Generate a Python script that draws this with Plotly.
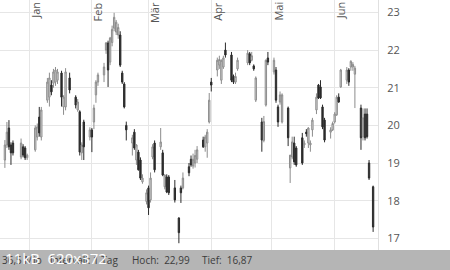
import plotly.graph_objects as go

dates = [
    "2018-12-20", "2018-12-21", "2018-12-22", "2018-12-23", "2018-12-24",
    "2018-12-28", "2018-12-29", "2018-12-30", "2018-12-31",
    "2019-01-04", "2019-01-05", "2019-01-06", "2019-01-07",
    "2019-01-10", "2019-01-11", "2019-01-12", "2019-01-13", "2019-01-14", "2019-01-15",
    "2019-01-17", "2019-01-18", "2019-01-19", "2019-01-21",
    "2019-01-24", "2019-01-25", "2019-01-26", "2019-01-27", "2019-01-28",
    "2019-01-31", "2019-02-01", "2019-02-02", "2019-02-03", "2019-02-04",
    "2019-02-07", "2019-02-08", "2019-02-09", "2019-02-10", "2019-02-11", "2019-02-12",
    "2019-02-13", "2019-02-14", "2019-02-15", "2019-02-16", "2019-02-17",
    "2019-02-18",
    "2019-02-21", "2019-02-22", "2019-02-23", "2019-02-24", "2019-02-25", "2019-02-26",
    "2019-02-28", "2019-03-01", "2019-03-02", "2019-03-03", "2019-03-04",
    "2019-03-07", "2019-03-08", "2019-03-09", "2019-03-10", "2019-03-11",
    "2019-03-14", "2019-03-16", "2019-03-17", "2019-03-18",
    "2019-03-21", "2019-03-22", "2019-03-23", "2019-03-24", "2019-03-25",
    "2019-03-28", "2019-03-29", "2019-03-30", "2019-03-31", "2019-04-01",
    "2019-04-04", "2019-04-05", "2019-04-06", "2019-04-07", "2019-04-08",
    "2019-04-11", "2019-04-12", "2019-04-13", "2019-04-14",
    "2019-04-19", "2019-04-20", "2019-04-21", "2019-04-22", "2019-04-23",
    "2019-04-26", "2019-04-27", "2019-04-28", "2019-04-29",
    "2019-05-02", "2019-05-03", "2019-05-04", "2019-05-05", "2019-05-06",
    "2019-05-09", "2019-05-10", "2019-05-11", "2019-05-12", "2019-05-13",
    "2019-05-16", "2019-05-17", "2019-05-18", "2019-05-19", "2019-05-20", "2019-05-21",
    "2019-05-23", "2019-05-24", "2019-05-25", "2019-05-26", "2019-05-27",
    "2019-05-30", "2019-05-31", "2019-06-01", "2019-06-02", "2019-06-03", "2019-06-04",
    "2019-06-07", "2019-06-08", "2019-06-09", "2019-06-10", "2019-06-11",
    "2019-06-14", "2019-06-15", "2019-06-16", "2019-06-17", "2019-06-18",
    "2019-06-20",
]

open_ = [
    19.08, 19.48, 19.93, 19.48, 19.53,
    19.16, 19.43, 19.40, 19.14,
    19.35, 19.69, 20.22, 19.69,
    20.67, 20.75, 21.07, 21.12, 21.15, 21.20,
    21.39, 20.49, 20.49, 21.26,
    20.75, 20.41, 20.36, 19.27, 20.09,
    19.69, 19.88, 20.09, 20.81, 21.15,
    21.34, 22.00, 22.19, 21.68, 22.20, 22.58,
    22.48, 22.40, 22.40, 21.39, 21.10,
    20.00,
    19.53, 19.82, 19.08, 19.29, 19.08, 18.50,
    17.98, 18.34, 18.02, 19.16, 19.53,
    19.43, 19.27, 18.37, 18.63, 18.63,
    18.34, 17.54, 18.34, 18.34,
    18.90, 19.10, 18.92, 19.00, 19.10,
    19.61, 19.43, 19.53, 20.09, 21.15,
    21.47, 21.60, 21.20, 21.55, 22.00,
    21.87, 21.30, 21.15, 21.50,
    21.66, 21.90, 21.73, 21.58, 20.67,
    20.09, 19.60, 20.54, 21.79,
    21.42, 21.47, 20.49, 20.62, 20.09,
    20.46, 18.87, 19.16, 19.53, 19.40,
    19.67, 19.48, 19.82, 19.53, 19.48, 19.88,
    20.41, 21.07, 21.02, 20.49, 20.14,
    19.82, 19.88, 20.09, 20.28, 20.75, 21.02,
    21.20, 21.47, 21.55, 21.55, 21.36,
    20.46, 19.70, 20.30, 20.30, 19.00,
    18.37,
]

high = [
    19.61, 20.09, 20.14, 19.55, 19.60,
    19.65, 19.50, 19.45, 19.25,
    20.00, 20.05, 20.49, 20.49,
    21.26, 21.40, 21.20, 21.50, 21.55, 21.50,
    21.45, 20.80, 21.52, 21.40,
    20.80, 20.70, 20.40, 19.55, 20.15,
    19.95, 19.93, 20.55, 21.20, 21.40,
    21.66, 22.21, 22.25, 22.35, 22.65, 22.99,
    22.80, 22.70, 22.50, 21.45, 21.15,
    20.10,
    19.75, 19.90, 19.50, 19.35, 19.15, 18.70,
    18.30, 18.40, 18.75, 19.50, 19.60,
    19.93, 19.35, 18.70, 18.70, 18.68,
    18.55, 17.56, 18.40, 18.75,
    19.00, 19.20, 19.25, 19.35, 19.45,
    19.70, 19.75, 19.90, 20.86, 21.26,
    21.80, 21.85, 21.75, 21.85, 22.20,
    21.95, 21.35, 21.40, 21.80,
    22.00, 21.95, 21.95, 21.62, 21.30,
    20.20, 20.25, 21.75, 21.95,
    21.80, 21.55, 20.55, 20.90, 20.85,
    20.50, 19.20, 19.70, 19.70, 19.45,
    19.80, 19.60, 19.90, 19.95, 19.60, 20.20,
    20.85, 21.10, 21.20, 20.55, 20.20,
    19.95, 20.10, 20.35, 20.80, 20.85, 21.50,
    21.55, 21.52, 21.73, 21.68, 21.58,
    20.55, 20.45, 20.45, 20.45, 19.08,
    18.40,
]

low = [
    18.87, 19.40, 19.35, 18.95, 19.20,
    19.10, 19.15, 19.08, 19.08,
    19.30, 19.60, 19.70, 19.60,
    20.60, 20.50, 20.80, 21.00, 21.05, 21.10,
    20.50, 20.28, 20.40, 20.85,
    20.45, 20.36, 19.20, 19.08, 19.08,
    19.60, 19.29, 19.90, 20.60, 21.05,
    21.15, 21.90, 21.02, 21.60, 22.10, 22.50,
    22.40, 22.30, 21.55, 21.10, 20.45,
    19.60,
    19.20, 19.35, 18.95, 18.80, 18.55, 18.45,
    17.90, 17.62, 17.95, 19.10, 18.75,
    19.35, 18.65, 18.30, 18.20, 18.15,
    17.95, 16.87, 17.94, 18.30,
    18.65, 18.90, 18.85, 18.88, 19.00,
    19.40, 19.30, 19.14, 20.05, 20.90,
    21.30, 21.50, 21.10, 21.50, 21.80,
    21.15, 21.10, 21.10, 21.45,
    21.60, 21.60, 21.70, 21.45, 20.62,
    19.30, 19.55, 20.50, 21.60,
    21.35, 20.60, 19.96, 20.55, 20.05,
    19.45, 18.47, 19.10, 18.95, 18.90,
    18.95, 19.40, 19.70, 19.40, 19.30, 19.70,
    20.30, 20.70, 20.70, 19.90, 19.55,
    19.65, 19.85, 20.05, 20.25, 20.60, 21.00,
    21.10, 21.05, 21.45, 21.45, 20.46,
    19.35, 19.60, 19.60, 19.65, 18.55,
    17.17,
]

close = [
    19.48, 19.82, 19.43, 19.27, 19.27,
    19.53, 19.21, 19.14, 19.21,
    19.93, 19.96, 19.80, 20.41,
    21.15, 21.26, 20.89, 21.42, 21.47, 21.42,
    20.75, 20.75, 21.42, 20.94,
    20.54, 20.62, 19.29, 19.48, 19.43,
    19.88, 19.69, 20.46, 21.15, 21.34,
    21.55, 22.19, 21.47, 22.32, 22.55, 22.87,
    22.74, 22.60, 21.60, 21.15, 20.49,
    19.88,
    19.67, 19.40, 19.48, 18.82, 18.60, 18.60,
    18.21, 17.81, 18.60, 19.43, 18.82,
    19.56, 18.68, 18.68, 18.23, 18.21,
    18.02, 17.15, 18.21, 18.60,
    18.74, 18.95, 19.10, 19.20, 19.35,
    19.43, 19.69, 19.82, 20.67, 21.07,
    21.73, 21.75, 21.73, 21.79, 21.87,
    21.20, 21.15, 21.30, 21.73,
    21.92, 21.66, 21.85, 21.50, 21.26,
    19.61, 20.10, 21.73, 21.68,
    21.73, 20.67, 20.09, 20.81, 20.81,
    19.67, 19.21, 19.56, 19.03, 18.95,
    19.00, 19.53, 19.78, 19.93, 19.53, 20.14,
    20.75, 20.73, 20.73, 19.96, 19.61,
    19.88, 20.05, 20.30, 20.75, 20.62, 21.47,
    21.47, 21.15, 21.70, 21.62, 21.52,
    19.67, 20.20, 19.67, 19.70, 18.60,
    17.30,
]

month_starts = ["2019-01-01", "2019-02-01", "2019-03-01", "2019-04-01", "2019-05-01", "2019-06-01"]
month_labels = ["Jan", "Feb", "Mär", "Apr", "Mai", "Jun"]
label_dates = ["2019-01-04", "2019-02-04", "2019-03-04", "2019-04-04", "2019-05-04", "2019-06-04"]
y_ticks = [17, 18, 19, 20, 21, 22, 23]
footer_texts = ["36,5 Mio", "Intervall: 1 Tag", "Hoch:  22,99", "Tief:  16,87"]
footer_x_px = [0, 48, 130, 200]

FONT = "Open Sans, Noto Sans, sans-serif"
W, H = 450, 270
PLOT_W, PLOT_H = 378, 250

fig = go.Figure(
    go.Candlestick(
        x=dates, open=open_, high=high, low=low, close=close,
        increasing=dict(line=dict(color="#8c8c8c", width=1), fillcolor="#e0e0e0"),
        decreasing=dict(line=dict(color="#2b2b2b", width=1), fillcolor="#2b2b2b"),
        whiskerwidth=0,
        showlegend=False,
        hoverinfo="skip",
    )
)

annotations = []
for d, t in zip(label_dates, month_labels):
    annotations.append(dict(
        x=d, xref="x", y=1, yref="paper", yanchor="top", xanchor="center",
        text=t, textangle=-90, showarrow=False,
        font=dict(family=FONT, size=11, color="#555555"),
    ))

# footer bar
shapes = [dict(
    type="rect", xref="paper", yref="paper",
    x0=0, x1=W / PLOT_W, y0=-(H - PLOT_H) / PLOT_H, y1=0,
    fillcolor="#b5b5b5", line=dict(width=0), layer="above",
)]
for t, xp in zip(footer_texts, footer_x_px):
    annotations.append(dict(
        x=xp / PLOT_W, xref="paper", y=-10 / PLOT_H, yref="paper",
        xanchor="left", yanchor="middle", text=t, showarrow=False,
        font=dict(family=FONT, size=10, color="#3c3c3c"),
    ))
annotations.append(dict(
    x=3 / PLOT_W, xref="paper", y=-8 / PLOT_H, yref="paper",
    xanchor="left", yanchor="middle", text="11kB  620x372", showarrow=False,
    font=dict(family=FONT, size=15, color="#ffffff"),
))

fig.update_layout(
    width=W, height=H,
    margin=dict(l=0, r=W - PLOT_W, t=0, b=H - PLOT_H, pad=0),
    paper_bgcolor="#ffffff", plot_bgcolor="#ffffff",
    font=dict(family=FONT, color="#555555"),
    boxgap=0.05,
    xaxis=dict(
        type="date",
        range=["2018-12-17 14:00", "2019-06-22 10:00"],
        rangeslider=dict(visible=False),
        tickmode="array", tickvals=month_starts,
        showticklabels=False, ticks="",
        showgrid=True, gridcolor="#e6e6e6", gridwidth=1,
        zeroline=False, showline=False,
    ),
    yaxis=dict(
        side="right", range=[16.69, 23.33],
        tickmode="array", tickvals=y_ticks, ticktext=[str(v) for v in y_ticks],
        tickfont=dict(family=FONT, size=11, color="#555555"),
        ticks="", ticklabelstandoff=6,
        showgrid=True, gridcolor="#e6e6e6", gridwidth=1,
        zeroline=False, showline=True, linecolor="#e0e0e0", linewidth=1,
    ),
    shapes=shapes,
    annotations=annotations,
)

fig.write_html("out.html")
